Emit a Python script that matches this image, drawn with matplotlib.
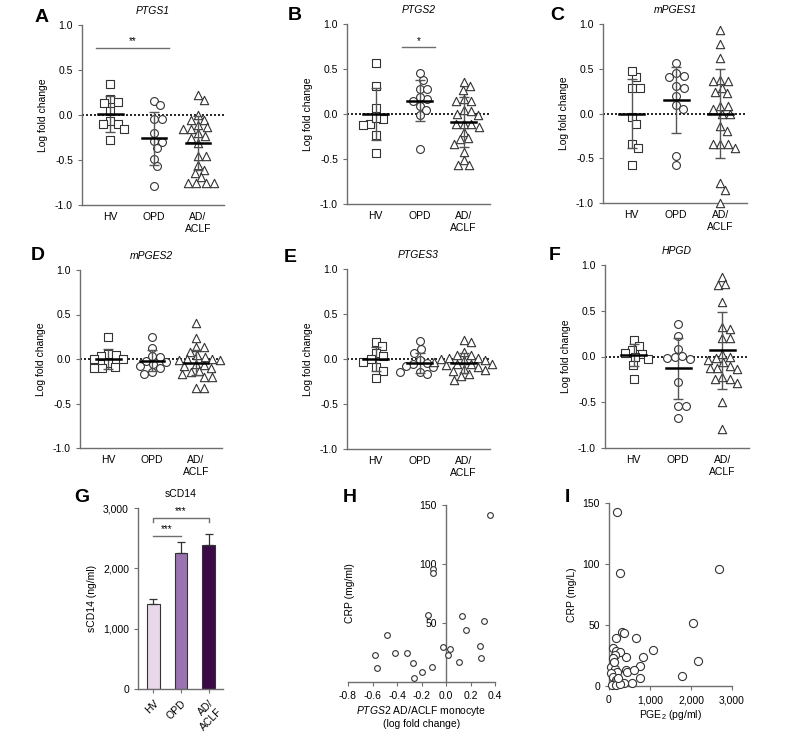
import numpy as np
import matplotlib
matplotlib.use("Agg")
import matplotlib.pyplot as plt

plt.rcParams['font.family'] = ['Liberation Sans', 'DejaVu Sans']
plt.rcParams['axes.unicode_minus'] = False
plt.rcParams['mathtext.fontset'] = 'custom'
plt.rcParams['mathtext.it'] = 'Liberation Sans:italic'
plt.rcParams['mathtext.rm'] = 'Liberation Sans'

groups = ["HV", "OPD", "AD/\nACLF"]

# A  PTGS1
ptgs1 = [[0.34, 0.18, 0.15, 0.13, 0.05, -0.07, -0.10, -0.10, -0.15, -0.28],
         [0.16, 0.11, -0.04, -0.04, -0.20, -0.30, -0.29, -0.37, -0.49, -0.57, -0.79],
         [0.22, 0.17, 0.0, -0.05, -0.05, -0.13, -0.11, -0.15, -0.15, -0.20, -0.23, -0.25,
          -0.31, -0.46, -0.46, -0.56, -0.64, -0.61, -0.69, -0.76, -0.75, -0.76, -0.76]]
ptgs1_mean = [0.01, -0.26, -0.31]
ptgs1_sd = [0.20, 0.29, 0.30]

# B  PTGS2
ptgs2 = [[0.57, 0.31, 0.07, -0.11, -0.12, -0.06, -0.045, -0.23, -0.43],
         [0.38, 0.46, 0.28, 0.28, 0.17, 0.19, 0.145, 0.085, 0.04, -0.015, -0.39],
         [0.31, 0.36, 0.27, 0.17, 0.15, 0.15, 0.04, 0.03, 0.0, -0.015, -0.11, -0.115,
          -0.11, -0.145, -0.20, -0.27, -0.28, -0.33, -0.42, -0.51, -0.57, -0.57]]
ptgs2_mean = [0.0, 0.15, -0.09]
ptgs2_sd = [0.29, 0.23, 0.28]

# C  mPGES1
mpges1 = [[0.41, 0.48, 0.29, 0.28, -0.04, -0.115, -0.34, -0.39, -0.58],
          [0.56, 0.42, 0.45, 0.31, 0.405, 0.28, 0.19, 0.10, 0.05, -0.47, -0.58],
          [0.93, 0.78, 0.62, 0.375, 0.36, 0.36, 0.29, 0.245, 0.225, 0.085, 0.085, 0.05,
           0.0, 0.0, -0.14, -0.19, -0.34, -0.34, -0.39, -0.34, -0.78, -0.85, -1.0]]
mpges1_mean = [0.0, 0.15, 0.0]
mpges1_sd = [0.385, 0.37, 0.50]

# D  mPGES2
mpges2 = [[0.25, 0.06, 0.05, 0.03, 0.0, 0.0, -0.05, -0.09, -0.10, -0.10],
          [0.25, 0.12, -0.02, 0.02, 0.03, -0.035, -0.06, -0.10, -0.08, -0.165, -0.15],
          [0.40, 0.24, 0.135, 0.13, 0.08, 0.05, 0.0, 0.0, -0.015, -0.01, -0.07, -0.08,
           -0.06, -0.14, -0.165, -0.15, -0.20, -0.20, -0.33, -0.33, -0.10, 0.02]]
mpges2_mean = [0.0, -0.02, -0.04]
mpges2_sd = [0.11, 0.12, 0.14]

# E  PTGES3
ptges3 = [[0.19, 0.14, 0.07, 0.03, 0.004, -0.03, -0.09, -0.13, -0.21],
          [0.20, 0.115, 0.07, -0.01, -0.045, -0.06, -0.09, -0.14, -0.14, -0.17, -0.08],
          [0.21, 0.19, 0.08, -0.015, 0.015, -0.015, 0.0, -0.06, -0.07, -0.06, -0.135,
           -0.23, 0.04, 0.04, -0.09, -0.11, -0.17, -0.03, 0.01, -0.05, -0.12, -0.19]]
ptges3_mean = [0.0, -0.04, -0.04]
ptges3_sd = [0.13, 0.11, 0.11]

# F  HPGD
hpgd = [[0.175, 0.11, 0.073, 0.03, 0.036, -0.007, -0.03, -0.09, -0.25],
        [0.35, 0.225, 0.08, -0.02, -0.03, -0.007, 0.007, -0.28, -0.54, -0.54, -0.67],
        [0.87, 0.78, 0.79, 0.60, 0.30, 0.32, 0.20, 0.20, 0.03, 0.0, -0.065, -0.02,
         -0.04, -0.13, -0.10, -0.14, -0.13, -0.25, -0.22, -0.29, -0.25, -0.50, -0.79]]
hpgd_mean = [0.02, -0.13, 0.07]
hpgd_sd = [0.12, 0.33, 0.42]

# G  sCD14
scd14_mean = [1414, 2254, 2392]
scd14_err = [78, 182, 177]
scd14_cols = ['#e9d7ea', '#9a73b0', '#3c0a47']

# H  PTGS2 vs CRP
h_x = [0.36, -0.104, -0.104, -0.15, 0.128, 0.31, 0.164, -0.485, 0.278, -0.022, 0.033,
       -0.58, -0.417, -0.316, 0.019, 0.283, -0.273, 0.109, -0.562, -0.112, -0.196, -0.262]
h_y = [141.5, 95.6, 92.3, 57, 56.2, 52, 44.4, 39.6, 30.3, 29.7, 28.3,
       23.2, 24.4, 24.9, 23, 20.4, 16.2, 17, 12, 12.5, 8.6, 3.8]

# I  PGE2 vs CRP
i_x = [204, 261, 2690, 2044, 2166, 1774, 1079, 834, 752, 752, 654, 319, 360, 180, 425,
       425, 441, 613, 572, 360, 98, 180, 261, 139, 98, 57, 139, 204, 57, 98, 180, 139,
       82, 180, 261, 220, 122]
i_y = [142.6, 92.5, 96, 52, 20.8, 8.2, 29.6, 24, 16.7, 6.3, 39.4, 44.1, 43.3, 39.7, 24,
       13, 11.8, 13, 2.2, 2.2, 31, 28.7, 28.2, 25.5, 22.7, 15.9, 13.7, 11.8, 10.4, 7.7,
       4.9, 2.7, 0.8, 0.8, 1.6, 6.3, 20]

W, H = 787, 737
fig = plt.figure(figsize=(W / 100, H / 100), dpi=100)
GRAY = '#6e6e6e'
FS = 7.5


def box(l, r, t, b):
    return [l / W, 1 - b / H, (r - l) / W, (b - t) / H]


def swarm(vals, ys=90.0, xs=43.7, d=7.8):
    vals = np.asarray(vals, float)
    px = np.zeros(len(vals))
    done = []
    for i in np.argsort(-vals):
        y = vals[i] * ys
        cands = [0.0]
        for j in done:
            dy = y - vals[j] * ys
            if abs(dy) < d:
                dx = np.sqrt(d * d - dy * dy)
                cands += [px[j] + dx, px[j] - dx]
        cands.sort(key=abs)
        for c in cands:
            if all((c - px[j]) ** 2 + (y - vals[j] * ys) ** 2 >= d * d - 1e-6 for j in done):
                px[i] = c
                break
        done.append(i)
    return px / xs


def style(ax):
    for s in ['top', 'right']:
        ax.spines[s].set_visible(False)
    for s in ['left', 'bottom']:
        ax.spines[s].set_color(GRAY)
        ax.spines[s].set_linewidth(1.0)
    ax.tick_params(colors=GRAY, labelcolor='black', labelsize=FS, length=3, width=0.8)


def dot_panel(ax, data, means, sds, title):
    markers = ['s', 'o', '^']
    sizes = [32, 32, 36]
    ax.axhline(0, color='black', lw=1.2, ls=(0, (1.2, 1.2)), zorder=2)
    for k, vals in enumerate(data):
        x = k + 1 + swarm(vals)
        ax.scatter(x, vals, marker=markers[k], s=sizes[k], facecolor='white',
                   edgecolor='#333333', linewidth=0.8, zorder=3, clip_on=False)
        ax.errorbar(k + 1, means[k], yerr=sds[k], color='#555555', capsize=3.5,
                    lw=1, capthick=1, zorder=4)
        ax.plot([k + 1 - 0.28, k + 1 + 0.28], [means[k]] * 2, color='black', lw=1.8, zorder=5)
    ax.set_xlim(0.35, 3.6)
    ax.set_ylim(-1, 1)
    ax.set_yticks([-1, -0.5, 0, 0.5, 1])
    ax.set_yticklabels(['-1.0', '-0.5', '0.0', '0.5', '1.0'])
    ax.set_xticks([1, 2, 3])
    ax.set_xticklabels(groups)
    style(ax)
    ax.tick_params(axis='x', length=0, pad=5)
    ax.set_ylabel('Log fold change', fontsize=FS, labelpad=5)
    ax.set_title(title, fontsize=FS, style='italic', pad=8)


axA = fig.add_axes(box(82, 224, 25, 205))
dot_panel(axA, ptgs1, ptgs1_mean, ptgs1_sd, 'PTGS1')
axA.plot([0.67, 2.34], [0.75, 0.75], color=GRAY, lw=1)
axA.text(1.5, 0.77, '**', ha='center', va='bottom', fontsize=7)

axB = fig.add_axes(box(347, 490, 24, 204))
dot_panel(axB, ptgs2, ptgs2_mean, ptgs2_sd, 'PTGS2')
axB.plot([1.6, 2.35], [0.74, 0.74], color=GRAY, lw=1)
axB.text(1.97, 0.76, '*', ha='center', va='bottom', fontsize=7)

axC = fig.add_axes(box(603, 747, 24, 203))
dot_panel(axC, mpges1, mpges1_mean, mpges1_sd, 'mPGES1')

axD = fig.add_axes(box(80, 222, 270, 448))
dot_panel(axD, mpges2, mpges2_mean, mpges2_sd, 'mPGES2')

axE = fig.add_axes(box(347, 490, 269, 449))
dot_panel(axE, ptges3, ptges3_mean, ptges3_sd, 'PTGES3')

axF = fig.add_axes(box(605, 749, 265, 448))
dot_panel(axF, hpgd, hpgd_mean, hpgd_sd, 'HPGD')

# G
axG = fig.add_axes(box(138, 223, 508, 689))
xg = np.arange(3)
axG.bar(xg, scd14_mean, width=0.46, color=scd14_cols, edgecolor='#333333', lw=0.8,
        yerr=[[0, 0, 0], scd14_err], capsize=3,
        error_kw=dict(ecolor='#333333', elinewidth=0.9, capthick=0.9))
axG.set_xlim(-0.55, 2.52)
axG.set_ylim(0, 3000)
axG.set_yticks([0, 1000, 2000, 3000])
axG.set_yticklabels(['0', '1,000', '2,000', '3,000'])
axG.set_xticks(xg)
axG.set_xticklabels(groups, rotation=45, ha='right', rotation_mode='anchor')
style(axG)
axG.set_ylabel('sCD14 (ng/ml)', fontsize=FS)
axG.set_title('sCD14', fontsize=FS, pad=8)
axG.plot([0, 1], [2540, 2540], color=GRAY, lw=1, clip_on=False)
axG.text(0.5, 2570, '***', ha='center', va='bottom', fontsize=7)
axG.plot([0, 0, 2, 2], [2760, 2830, 2830, 2760], color=GRAY, lw=1, clip_on=False)
axG.text(1.0, 2860, '***', ha='center', va='bottom', fontsize=7)

# H
axH = fig.add_axes(box(348, 495, 505, 682))
axH.scatter(h_x, h_y, s=17, facecolor='white', edgecolor='#333333', linewidth=0.8,
            zorder=3, clip_on=False)
axH.set_xlim(-0.8, 0.4)
axH.set_ylim(0, 150)
axH.set_xticks(np.round(np.arange(-0.8, 0.41, 0.2), 1))
axH.set_xticklabels(['-0.8', '-0.6', '-0.4', '-0.2', '0.0', '0.2', '0.4'])
axH.set_yticks([50, 100, 150])
style(axH)
axH.spines['left'].set_position(('data', 0))
axH.set_ylabel('CRP (mg/ml)', fontsize=FS)
axH.yaxis.set_label_coords(0.05, 0.5)
axH.set_xlabel(r'$\it{PTGS2}$ AD/ACLF monocyte' + '\n(log fold change)', fontsize=FS,
               labelpad=2)

# I
axI = fig.add_axes(box(609, 732, 503, 686))
axI.scatter(i_x, i_y, s=34, facecolor='white', edgecolor='#333333', linewidth=0.8,
            zorder=3, clip_on=False)
axI.set_xlim(0, 3000)
axI.set_ylim(0, 150)
axI.set_xticks([0, 1000, 2000, 3000])
axI.set_xticklabels(['0', '1,000', '2,000', '3,000'])
axI.set_yticks([0, 50, 100, 150])
style(axI)
axI.set_ylabel('CRP (mg/L)', fontsize=FS)
axI.set_xlabel(r'PGE$_2$ (pg/ml)', fontsize=FS, labelpad=2)

for lab, x, y in [('A', 42, 17), ('B', 295, 15), ('C', 557, 16), ('D', 38, 256),
                  ('E', 290, 258), ('F', 555, 255), ('G', 82, 497), ('H', 350, 497),
                  ('I', 567, 497)]:
    fig.text(x / W, 1 - y / H, lab, ha='center', va='center', fontsize=14, weight='bold')

fig.savefig('out.png', dpi=100)
